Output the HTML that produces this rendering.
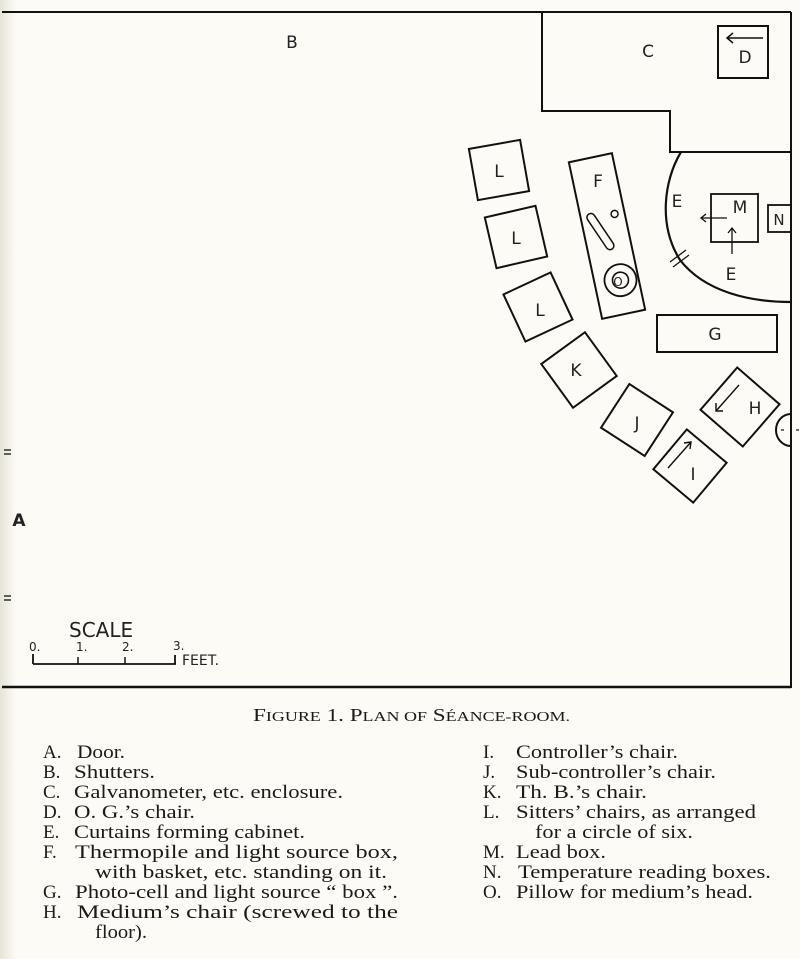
<!DOCTYPE html>
<html><head><meta charset="utf-8"><style>
html,body{margin:0;padding:0;background:#fcfbf5;}
svg{display:block}
.s{font-family:"DejaVu Sans","Liberation Sans",sans-serif;font-size:17px;fill:#222}
.t{font-family:"Liberation Serif",serif;font-size:19px;fill:#1a1a1a}
</style></head><body>
<svg width="800" height="959" viewBox="0 0 800 959" xmlns="http://www.w3.org/2000/svg">
<defs><linearGradient id="lg" x1="0" x2="1"><stop offset="0" stop-color="#e6e3d8"/><stop offset="1" stop-color="#fcfbf5"/></linearGradient></defs>
<rect width="800" height="959" fill="#fcfbf5"/>
<rect x="0" y="0" width="16" height="959" fill="url(#lg)"/>
<g fill="none" stroke="#111" stroke-width="2">
<line x1="2" y1="12" x2="791" y2="12"/>
<line x1="791" y1="12" x2="791" y2="688"/>
<line x1="2" y1="687" x2="791" y2="687" stroke-width="2.5"/>
<polyline points="542,12 542,111 670,111 670,152 791,152"/>
<rect x="718" y="26" width="50" height="52"/>
<line x1="763" y1="38" x2="727" y2="38" stroke-width="1.5"/>
<polyline points="733,33 727,38 733,43" stroke-width="1.5"/>
<path d="M681,152 C664,180 658,225 680,260 C705,292 750,302 791,302" stroke-width="2.2"/>
<line x1="670" y1="262" x2="686" y2="250" stroke-width="1.3"/>
<line x1="673" y1="267" x2="689" y2="255" stroke-width="1.3"/>
<rect x="711" y="194" width="47" height="48" stroke-width="1.8"/>
<line x1="727" y1="218" x2="702" y2="218" stroke-width="1.3"/>
<polyline points="706,214 701,218 706,222" stroke-width="1.3"/>
<line x1="732" y1="254" x2="732" y2="229" stroke-width="1.3"/>
<polyline points="728,233 732,228 736,233" stroke-width="1.3"/>
<rect x="768" y="205" width="23" height="27" stroke-width="1.8"/>
<g transform="translate(607,236) rotate(-12)">
<rect x="-22" y="-80" width="44" height="160"/>
<rect x="-4" y="-25" width="8" height="42" rx="4" transform="translate(-4,-2) rotate(-22)" stroke-width="1.5"/>
<circle cx="12" cy="-20" r="3.5" stroke-width="1.5"/>
<circle cx="4" cy="46" r="16" stroke-width="1.8"/>
<circle cx="4" cy="46" r="8" stroke-width="1.6"/>
</g>
<rect x="-26" y="-26" width="52" height="52" transform="translate(499,170) rotate(-10)"/>
<rect x="-26" y="-26" width="52" height="52" transform="translate(516,237) rotate(-13)"/>
<rect x="-26" y="-26" width="52" height="52" transform="translate(538,307) rotate(-25)"/>
<rect x="-27" y="-27" width="54" height="54" transform="translate(579,370) rotate(-36)"/>
<rect x="-26" y="-26" width="52" height="52" transform="translate(637,420) rotate(33)"/>
<rect x="-26" y="-26" width="52" height="52" transform="translate(690,466) rotate(40)"/>
<rect x="-28" y="-28" width="56" height="56" transform="translate(740,407) rotate(41)"/>
<line x1="668" y1="468" x2="691" y2="442" stroke-width="1.4"/>
<polyline points="684,443 691,442 690,449" stroke-width="1.4"/>
<line x1="739" y1="385" x2="716" y2="411" stroke-width="1.4"/>
<polyline points="716,403 716,411 723,411" stroke-width="1.4"/>
<rect x="657" y="315" width="120" height="37"/>
<path d="M791,414 A15,16 0 0 0 791,446"/>
<line x1="781" y1="430" x2="784" y2="430" stroke-width="1.2"/>
<line x1="796" y1="430" x2="799" y2="430" stroke-width="1.2"/>
<line x1="33" y1="664" x2="176" y2="664" stroke-width="1.8"/>
<line x1="33" y1="654" x2="33" y2="664" stroke-width="1.8"/>
<line x1="78" y1="657" x2="78" y2="664" stroke-width="1.5"/>
<line x1="125" y1="657" x2="125" y2="664" stroke-width="1.5"/>
<line x1="175" y1="655" x2="175" y2="664" stroke-width="1.8"/>
<line x1="4" y1="450" x2="11" y2="450" stroke-width="1.3"/>
<line x1="4" y1="454" x2="11" y2="454" stroke-width="1.3"/>
<line x1="4" y1="596" x2="11" y2="596" stroke-width="1.3"/>
<line x1="4" y1="600" x2="11" y2="600" stroke-width="1.3"/>
</g>
<g class="s" text-anchor="middle">
<text x="292" y="48">B</text>
<text x="648" y="57">C</text>
<text x="745" y="63">D</text>
<text x="677" y="207">E</text>
<text x="731" y="280">E</text>
<text x="740" y="213">M</text>
<text x="779" y="225" font-size="15">N</text>
<text x="598" y="187">F</text>
<text x="618" y="286" font-size="12">O</text>
<text x="499" y="177">L</text>
<text x="516" y="244">L</text>
<text x="540" y="316">L</text>
<text x="576" y="376">K</text>
<text x="637" y="429">J</text>
<text x="755" y="414">H</text>
<text x="693" y="480">I</text>
<text x="715" y="340">G</text>
<text x="19" y="526" font-weight="bold">A</text>
</g>
<g class="s">
<text x="69" y="637" font-size="20">SCALE</text>
<text x="29" y="651" font-size="12">0.</text>
<text x="76" y="651" font-size="12">1.</text>
<text x="122" y="651" font-size="12">2.</text>
<text x="173" y="650" font-size="12">3.</text>
<text x="182" y="665" font-size="14">FEET.</text>
</g>
<g class="t">
<text x="253" y="721" font-size="18" textLength="317" lengthAdjust="spacingAndGlyphs">F<tspan font-size="14">IGURE</tspan> 1.  P<tspan font-size="14">LAN OF</tspan> S<tspan font-size="14">ÉANCE-ROOM.</tspan></text>
<text x="43" y="758">A.</text><text x="77" y="758" textLength="48" lengthAdjust="spacingAndGlyphs">Door.</text>
<text x="43" y="778">B.</text><text x="74" y="778" textLength="81" lengthAdjust="spacingAndGlyphs">Shutters.</text>
<text x="43" y="798">C.</text><text x="74" y="798" textLength="269" lengthAdjust="spacingAndGlyphs">Galvanometer, etc. enclosure.</text>
<text x="43" y="818">D.</text><text x="74" y="818" textLength="121" lengthAdjust="spacingAndGlyphs">O. G.’s chair.</text>
<text x="43" y="838">E.</text><text x="74" y="838" textLength="231" lengthAdjust="spacingAndGlyphs">Curtains forming cabinet.</text>
<text x="43" y="858">F.</text><text x="75" y="858" textLength="323" lengthAdjust="spacingAndGlyphs">Thermopile  and  light  source  box,</text>
<text x="95" y="878" textLength="292" lengthAdjust="spacingAndGlyphs">with basket, etc. standing on it.</text>
<text x="43" y="898">G.</text><text x="75" y="898" textLength="323" lengthAdjust="spacingAndGlyphs">Photo-cell and light source “ box ”.</text>
<text x="43" y="918">H.</text><text x="77" y="918" textLength="321" lengthAdjust="spacingAndGlyphs">Medium’s  chair  (screwed  to  the</text>
<text x="95" y="938" textLength="52" lengthAdjust="spacingAndGlyphs">floor).</text>
<text x="483" y="758">I.</text><text x="516" y="758" textLength="162" lengthAdjust="spacingAndGlyphs">Controller’s chair.</text>
<text x="483" y="778">J.</text><text x="516" y="778" textLength="200" lengthAdjust="spacingAndGlyphs">Sub-controller’s chair.</text>
<text x="483" y="798">K.</text><text x="516" y="798" textLength="131" lengthAdjust="spacingAndGlyphs">Th. B.’s chair.</text>
<text x="483" y="818">L.</text><text x="516" y="818" textLength="240" lengthAdjust="spacingAndGlyphs">Sitters’ chairs, as arranged</text>
<text x="535" y="838" textLength="158" lengthAdjust="spacingAndGlyphs">for a circle of six.</text>
<text x="483" y="858">M.</text><text x="516" y="858" textLength="90" lengthAdjust="spacingAndGlyphs">Lead box.</text>
<text x="483" y="878">N.</text><text x="518" y="878" textLength="253" lengthAdjust="spacingAndGlyphs">Temperature reading boxes.</text>
<text x="483" y="898">O.</text><text x="516" y="898" textLength="237" lengthAdjust="spacingAndGlyphs">Pillow for medium’s head.</text>
</g>
</svg>
</body></html>
